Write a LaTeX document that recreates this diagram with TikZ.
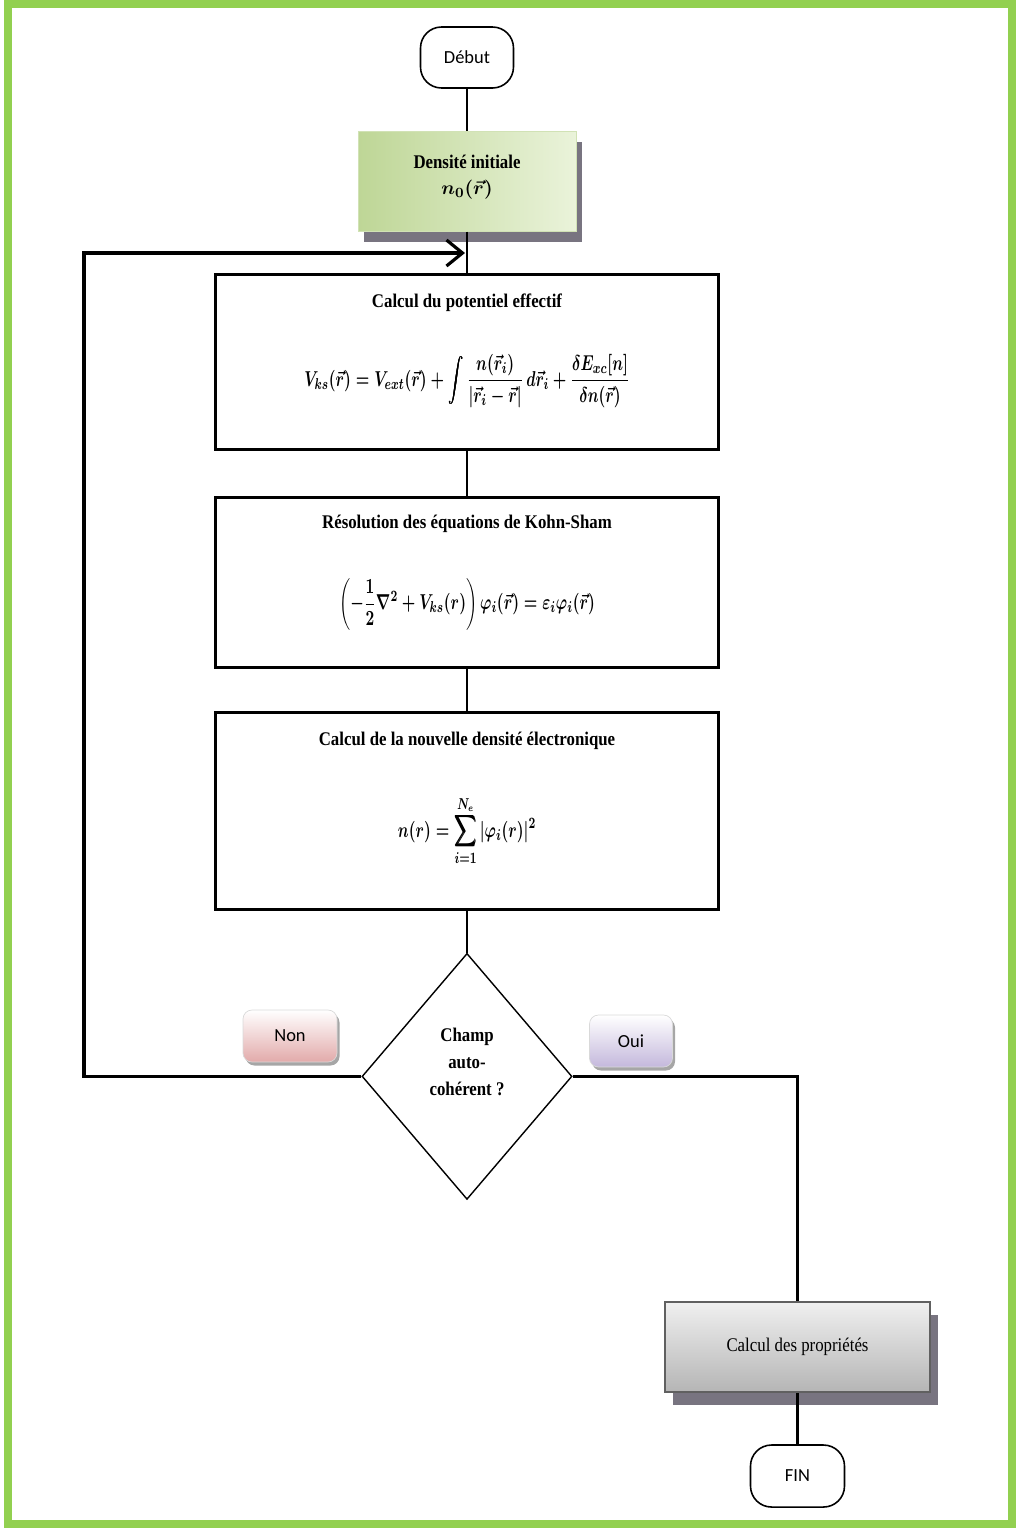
\documentclass[tikz,border=0pt]{standalone}
\usepackage{amsmath}
\usepackage{bm}
\usepackage{graphicx}
\usepackage{fontspec}
\setmainfont{Liberation Serif}[FakeStretch=0.87]
\newfontfamily\labelfont{Carlito}
\usepackage{tikz}
\usepackage{xcolor}
\usetikzlibrary{shapes.geometric, arrows.meta, positioning, shadows}

\definecolor{framegreen}{RGB}{146,208,80}
\definecolor{initleft}{RGB}{190,214,150}
\definecolor{initright}{RGB}{234,243,218}
\definecolor{shadowgray}{RGB}{120,116,128}
\definecolor{nonpink}{RGB}{226,170,170}
\definecolor{ouiviolet}{RGB}{196,184,220}

% narrow bold formula, as in the boxes
\newsavebox{\formbox}
\newcommand{\formule}[1]{\sbox{\formbox}{\boldmath$\bm{#1}$}\scalebox{0.79}[1.12]{\usebox{\formbox}}}

\tikzstyle{terminal}  = [rectangle, rounded corners=0.42cm, minimum width=1.86cm, minimum height=1.22cm,
                         draw=black, line width=0.9pt, font=\labelfont\fontsize{10.5}{12}\selectfont]
\tikzstyle{initbox}   = [rectangle, minimum width=4.36cm, minimum height=2cm, align=center,
                         left color=initleft, right color=initright, draw=initleft!70,
                         font=\bfseries\fontsize{11}{15}\selectfont,
                         drop shadow={shadow xshift=0.12cm, shadow yshift=-0.22cm, fill=shadowgray, opacity=1}]
\tikzstyle{calcbox}   = [rectangle, minimum width=10.06cm, align=center, draw=black, line width=1.6pt,
                         font=\bfseries\fontsize{11}{14}\selectfont]
\tikzstyle{decision}  = [diamond, minimum width=4.2cm, minimum height=4.92cm, inner sep=0pt, align=center,
                         draw=black, line width=0.8pt, font=\bfseries\fontsize{11}{15.3}\selectfont]
\tikzstyle{tag}       = [rectangle, rounded corners=0.18cm, minimum height=1.04cm, draw=gray!30,
                         top color=white, font=\labelfont\fontsize{10.5}{12}\selectfont,
                         drop shadow={shadow xshift=0.05cm, shadow yshift=-0.07cm, fill=gray!70, opacity=1}]
\tikzstyle{resultbox} = [rectangle, minimum width=5.3cm, minimum height=1.8cm, draw=gray!75!black, line width=1.4pt,
                         top color=gray!12, bottom color=gray!58, font=\fontsize{11}{13}\selectfont,
                         drop shadow={shadow xshift=0.16cm, shadow yshift=-0.26cm, fill=shadowgray, opacity=1}]
\tikzstyle{line}      = [line width=1.2pt]
\tikzstyle{loopline}  = [line width=1.8pt]
\tikzstyle{arrow}     = [loopline, -{Straight Barb[length=3.2mm, width=5.2mm]}]

\begin{document}
\begin{tikzpicture}
    \useasboundingbox (0,0) rectangle (20.32,-30.56);
    \draw[framegreen, line width=0.16cm] (0.16,-0.08) rectangle (20.24,-30.48);

    \node (debut) [terminal] at (9.34,-1.15) {Début};
    \node (dens) [initbox, below=0.84cm of debut] {Densité initiale\\{\boldmath$n_0(\vec{r})$}\\[-0.28cm]};

    \node (pot) [calcbox, minimum height=3.5cm, below=0.83cm of dens]
        {Calcul du potentiel effectif\\[0.81cm]
         \formule{V_{ks}(\vec{r}) = V_{ext}(\vec{r}) + \displaystyle\int \frac{n(\vec{r}_i)}{|\vec{r}_i - \vec{r}|}\,d\vec{r}_i + \frac{\delta E_{xc}[n]}{\delta n(\vec{r})}}\\[0.38cm]};
    \node (kohn) [calcbox, minimum height=3.4cm, below=0.9cm of pot]
        {Résolution des équations de Kohn-Sham\\[0.88cm]
         \formule{\left(-\dfrac{1}{2}\nabla^2 + V_{ks}(r)\right)\varphi_i(\vec{r}) = \varepsilon_i\varphi_i(\vec{r})}\\[0.31cm]};
    \node (newdens) [calcbox, minimum height=3.94cm, below=0.845cm of kohn]
        {Calcul de la nouvelle densité électronique\\[0.91cm]
         \formule{n(r) = \displaystyle\sum_{i=1}^{N_e}|\varphi_i(r)|^2}\\[0.45cm]};

    \node (test) [decision, below=0.84cm of newdens] {Champ\\auto-\\cohérent ?\\[0.05cm]};
    \node (non) [tag, minimum width=1.88cm, bottom color=nonpink] at (5.8,-20.72) {Non};
    \node (oui) [tag, minimum width=1.66cm, bottom color=ouiviolet] at (12.62,-20.82) {Oui};

    \node (props) [resultbox] at (15.95,-26.94) {Calcul des propriétés};
    \node (fin) [terminal, minimum width=1.88cm, minimum height=1.24cm, below=1.02cm of props] {FIN};

    \coordinate (coin) at (1.68,-5.06);
    \coordinate (entree) at (9.30,-5.06);

    \draw[line] (debut) -- (dens);
    \draw[line] (dens) -- (pot);
    \draw[line] (pot) -- (kohn);
    \draw[line] (kohn) -- (newdens);
    \draw[line] (newdens) -- (test);
    \draw[arrow] (test.west) -| (coin) -- (entree);
    \draw[loopline] (test.east) -| (props.north);
    \draw[line] (props) -- (fin);
\end{tikzpicture}
\end{document}
